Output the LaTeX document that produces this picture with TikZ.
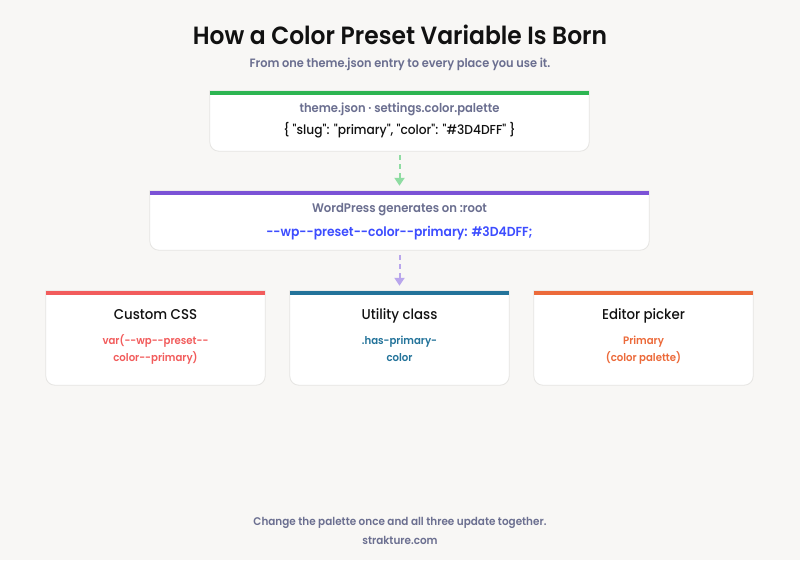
\documentclass[tikz,border=0pt]{standalone}
\usepackage{fontspec}
\setmainfont{Poppins}[Ligatures=TeXOff,FakeStretch=0.94]
\newfontfamily\pmed{Poppins Medium}[Ligatures=TeXOff,FakeStretch=0.94]
\newfontfamily\psemi{Poppins SemiBold}[Ligatures=TeXOff,FakeStretch=0.94]
\usetikzlibrary{arrows.meta}
\definecolor{bg}{HTML}{F8F7F5}
\definecolor{cborder}{HTML}{E6E5E3}
\definecolor{greytxt}{HTML}{6B6F90}
\definecolor{ink}{HTML}{111111}
\definecolor{cgreen}{HTML}{2DB552}
\definecolor{cgreenl}{HTML}{8FDCA2}
\definecolor{cpurple}{HTML}{7B52D6}
\definecolor{cpurplel}{HTML}{B9A6EC}
\definecolor{cblue}{HTML}{3D4DFF}
\definecolor{cred}{HTML}{F25C5C}
\definecolor{cteal}{HTML}{23739A}
\definecolor{corange}{HTML}{EC6A3A}
\newcommand\drawcard[2]{%
  \filldraw[fill=white,draw=cborder,line width=0.8pt]
    (#1.north west) -- ([yshift=9pt]#1.south west)
    arc[start angle=180,end angle=270,radius=9pt]
    -- ([xshift=-9pt]#1.south east)
    arc[start angle=270,end angle=360,radius=9pt]
    -- (#1.north east) -- cycle;
  \fill[#2] (#1.north west) rectangle ([yshift=-4pt]#1.north east);
}
\begin{document}
\begin{tikzpicture}[x=1pt,y=-1pt,
  card/.style={draw=none,inner sep=0pt,rectangle},
  txt/.style={inner sep=0pt,anchor=base},
  flow/.style={line width=2pt,dash pattern=on 5pt off 4pt,-{Triangle[width=10pt,length=8pt]}}]
\fill[bg] (0,0) rectangle (800,560);
\useasboundingbox (0,0) rectangle (800,560);

% cards
\node[card,minimum width=379pt,minimum height=60pt] (b1) at (399.5,121) {};
\node[card,minimum width=499pt,minimum height=59pt] (b2) at (399.5,220.5) {};
\node[card,minimum width=219pt,minimum height=94pt] (b3) at (155.5,338) {};
\node[card,minimum width=219pt,minimum height=94pt] (b4) at (399.5,338) {};
\node[card,minimum width=219pt,minimum height=94pt] (b5) at (643.5,338) {};
\drawcard{b1}{cgreen}
\drawcard{b2}{cpurple}
\drawcard{b3}{cred}
\drawcard{b4}{cteal}
\drawcard{b5}{corange}

% connectors
\draw[flow,cgreenl] ([yshift=-4pt]b1.south) -- ([yshift=5pt]b2.north);
\draw[flow,cpurplel] ([yshift=-5pt]b2.south) -- ([yshift=5pt]b4.north);

% title
\node[txt,text=ink] (title) at (400,44) {\psemi\fontsize{24.9}{30}\selectfont How a Color Preset Variable Is Born};
\node[txt,text=greytxt] (sub) at (400,67) {\psemi\fontsize{12.1}{15}\selectfont From one theme.json entry to every place you use it.};

% box 1
\node[txt,text=greytxt] (b1a) at (399.5,112) {\psemi\fontsize{12.3}{15}\selectfont theme.json · settings.color.palette};
\node[txt,text=ink] (b1b) at (399.5,134) {\pmed\fontsize{13}{15}\selectfont \{ "slug": "primary", "color": "\#3D4DFF" \}};

% box 2
\node[txt,text=greytxt] (b2a) at (399.5,212) {\psemi\fontsize{12.4}{15}\selectfont WordPress generates on :root};
\node[txt,text=cblue] (b2b) at (399.5,236.5) {\psemi\fontsize{13.1}{17}\selectfont --wp--preset--color--primary: \#3D4DFF;};

% box 3
\node[txt,text=ink] (b3a) at (155.5,319) {\pmed\fontsize{14.2}{18}\selectfont Custom CSS};
\node[txt,text=cred] (b3b) at (155.5,344) {\psemi\fontsize{10.8}{14}\selectfont var(--wp--preset--};
\node[txt,text=cred] (b3c) at (155.5,361.5) {\psemi\fontsize{10.8}{14}\selectfont color--primary)};

% box 4
\node[txt,text=ink] (b4a) at (399.5,319) {\pmed\fontsize{14.2}{18}\selectfont Utility class};
\node[txt,text=cteal] (b4b) at (399.5,344) {\psemi\fontsize{10.8}{14}\selectfont .has-primary-};
\node[txt,text=cteal] (b4c) at (399.5,361.5) {\psemi\fontsize{10.8}{14}\selectfont color};

% box 5
\node[txt,text=ink] (b5a) at (643.5,319) {\pmed\fontsize{14.2}{18}\selectfont Editor picker};
\node[txt,text=corange] (b5b) at (643.5,344) {\psemi\fontsize{10.8}{14}\selectfont Primary};
\node[txt,text=corange] (b5c) at (643.5,361.5) {\psemi\fontsize{10.8}{14}\selectfont (color palette)};

% footer
\node[txt,text=greytxt] (f1) at (400,525.5) {\psemi\fontsize{11.1}{15}\selectfont Change the palette once and all three update together.};
\node[txt,text=greytxt] (f2) at (400,544) {\psemi\fontsize{11.1}{15}\selectfont strakture.com};
\end{tikzpicture}
\end{document}
